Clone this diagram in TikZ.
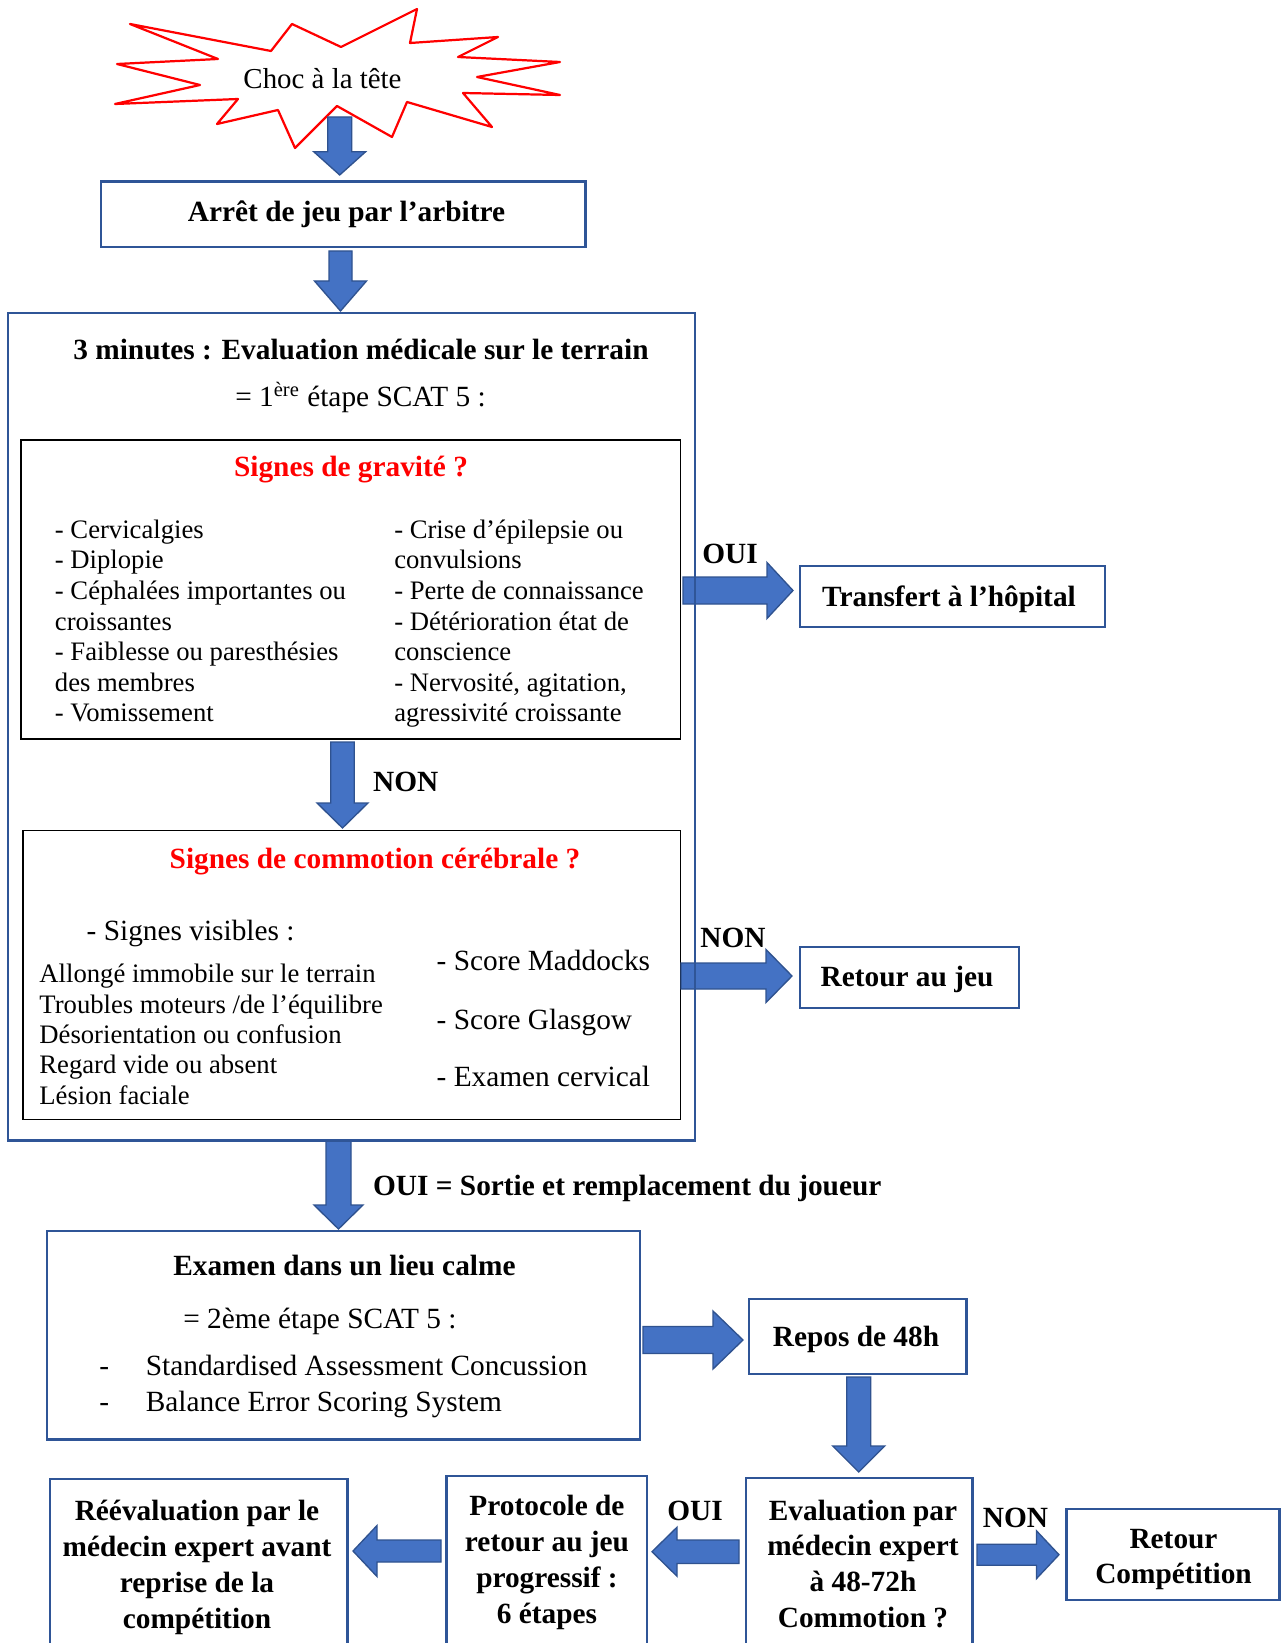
\documentclass[tikz,border=0pt]{standalone}
\usepackage{fontspec}
\setmainfont{Liberation Serif}
\usetikzlibrary{calc}
\definecolor{boxblue}{HTML}{2F5597}
\definecolor{arrfill}{HTML}{4472C4}
\definecolor{arrline}{HTML}{2F528F}
\definecolor{wred}{HTML}{FF0000}
\tikzset{
  bluebox/.style={draw=boxblue, line width=1.1pt, inner sep=0pt},
  blackbox/.style={draw=black, line width=0.6pt, inner sep=0pt},
  blockarrow/.style={fill=arrfill, draw=arrline, line width=0.6pt, line join=miter},
  txt/.style={inner sep=0pt, font=\fontsize{13.2}{15}\selectfont},
  btxt/.style={inner sep=0pt, font=\fontsize{13.2}{15}\selectfont\bfseries},
  stxt/.style={inner sep=0pt, font=\fontsize{12}{14}\selectfont},
  rtxt/.style={inner sep=0pt, font=\fontsize{13.2}{15}\selectfont\bfseries, text=wred},
}
% box node from corners (x1,y1)-(x2,y2) in px
\newcommand\boxnode[6]{\node[#6, minimum width={(#4-#2)*0.45pt}, minimum height={(#5-#3)*0.45pt}] (#1) at ({(#2+#4)/2},{(#3+#5)/2}) {};}
% block arrow: start, tip, half shaft, half head, head length (px)
\newcommand\blk[5]{%
  \pgfmathsetlengthmacro\bkS{#3*0.45pt}%
  \pgfmathsetlengthmacro\bkH{#4*0.45pt}%
  \pgfmathsetlengthmacro\bkL{#5*0.45pt}%
  \coordinate (bkb) at ($(#2)!\bkL!(#1)$);
  \draw[blockarrow] ($(#1)!\bkS!90:(#2)$) -- ($(bkb)!\bkS!90:(#2)$) -- ($(bkb)!\bkH!90:(#2)$) -- (#2) -- ($(bkb)!\bkH!270:(#2)$) -- ($(bkb)!\bkS!270:(#2)$) -- ($(#1)!\bkS!270:(#2)$) -- cycle;}
\begin{document}
\begin{tikzpicture}[x=0.45pt,y=-0.45pt]
\path[use as bounding box, clip] (0,0) rectangle (1281,1643);
\fill[white] (0,0) rectangle (1281,1643);

% starburst
\draw[wred, line width=1pt, line join=round] (130,24) -- (271,51) -- (292,24) -- (341,47) -- (417,9) -- (410,43) -- (498,37) -- (458,57) -- (560,62) -- (477,77) -- (560,95) -- (463,93) -- (492,127) -- (407,102) -- (392,137) -- (337,106) -- (295,148) -- (278,110) -- (217,124) -- (238,99) -- (115,104) -- (200,85) -- (117,64) -- (218,59) -- cycle;
\node[inner sep=0pt, font=\fontsize{13}{15}\selectfont, anchor=base] (choc) at (322.5,88.3) {Choc à la tête};

% boxes
\boxnode{arret}{101}{181.5}{585.5}{247}{bluebox}
\node[btxt, anchor=base] (arret-t) at (346.5,221.7) {Arrêt de jeu par l’arbitre};

\boxnode{grav}{21}{440}{680.5}{739}{blackbox}
\boxnode{comm}{23}{830.7}{680.5}{1119.3}{blackbox}
\boxnode{hopital}{800}{566}{1105}{627}{bluebox}
\node[btxt, anchor=base] (hopital-t) at (949,606.7) {Transfert à l’hôpital};
\boxnode{rjeu}{800}{947}{1019}{1008}{bluebox}
\node[btxt, anchor=base] (rjeu-t) at (907,986.7) {Retour au jeu};
\boxnode{examen}{47}{1231}{640}{1439.5}{bluebox}
\boxnode{repos}{749}{1299}{966.5}{1374}{bluebox}
\node[btxt, anchor=base] (repos-t) at (856,1346.7) {Repos de 48h};
\boxnode{reeval}{50}{1479}{347.5}{1700}{bluebox}
\boxnode{proto}{446.5}{1476}{647}{1700}{bluebox}
\boxnode{evexp}{746}{1478}{972.5}{1700}{bluebox}
\boxnode{rcomp}{1066.5}{1509}{1279.5}{1600}{bluebox}

% block arrows
\coordinate (a1s) at (339.7,117);   \coordinate (a1e) at (339.7,175);
\coordinate (a2s) at (340.5,251);   \coordinate (a2e) at (340.5,311);
\coordinate (a3s) at (683,590.5);   \coordinate (a3e) at (793,590.5);
\coordinate (a4s) at (342.5,742);   \coordinate (a4e) at (342.5,828);
\coordinate (a5s) at (681,976);     \coordinate (a5e) at (792,976);
\coordinate (a6s) at (338.5,1141);  \coordinate (a6e) at (338.5,1229);
\coordinate (a7s) at (643,1340);    \coordinate (a7e) at (743,1340);
\coordinate (a8s) at (858.7,1377);  \coordinate (a8e) at (858.7,1472);
\coordinate (a9s) at (739,1551.7);  \coordinate (a9e) at (652,1551.7);
\coordinate (a10s) at (441,1551);   \coordinate (a10e) at (353,1551);
\coordinate (a11s) at (977,1554.7); \coordinate (a11e) at (1059,1554.7);
\blk{a1s}{a1e}{12}{26}{23.3}
\blk{a2s}{a2e}{11.5}{26}{30}
\blk{a3s}{a3e}{13.5}{28}{26}
\blk{a4s}{a4e}{11.8}{25.5}{25}
\blk{a5s}{a5e}{13}{26.5}{26}
\blk{a6s}{a6e}{12.5}{24.5}{24}
\blk{a7s}{a7e}{13.5}{29}{30}
\blk{a8s}{a8e}{12}{26}{26}
\blk{a9s}{a9e}{11.7}{24.5}{25}
\blk{a10s}{a10e}{11}{25.5}{24}
\blk{a11s}{a11e}{10.5}{24}{22.6}

% big evaluation box (drawn over the side arrows)
\boxnode{eval}{8}{313}{695}{1140.5}{bluebox}
\node[btxt, anchor=base] (eval-t) at (361,359.3) {3 minutes : Evaluation médicale sur le terrain};
\node[txt, anchor=base] (scat1) at (360.5,406) {= 1\textsuperscript{ère} étape SCAT 5 :};

% gravite content
\node[rtxt, anchor=base] (grav-t) at (351,476.7) {Signes de gravité ?};
\foreach \t [count=\i from 0] in {- Cervicalgies, - Diplopie, - Céphalées importantes ou, croissantes, - Faiblesse ou paresthésies, des membres, - Vomissement}
  \node[stxt, anchor=base west] (gl\i) at (54.5,{538.3+30.57*\i}) {\t};
\foreach \t [count=\i from 0] in {- Crise d’épilepsie ou, convulsions, - Perte de connaissance, - Détérioration état de, conscience, {- Nervosité, agitation,}, agressivité croissante}
  \node[stxt, anchor=base west] (gr\i) at (393.8,{538.3+30.57*\i}) {\t};

% commotion content
\node[rtxt, anchor=base] (comm-t) at (375,868.3) {Signes de commotion cérébrale ?};
\node[txt, anchor=base west] (visibles) at (86.3,940) {- Signes visibles :};
\foreach \t [count=\i from 0] in {Allongé immobile sur le terrain, Troubles moteurs /de l’équilibre, Désorientation ou confusion, Regard vide ou absent, Lésion faciale}
  \node[stxt, anchor=base west] (cl\i) at (39,{982.7+30.35*\i}) {\t};
\foreach \t/\y [count=\i] in {- Score Maddocks/970.7, - Score Glasgow/1029.3, - Examen cervical/1086.7}
  \node[txt, anchor=base west] (cr\i) at (436.2,\y) {\t};

% examen content
\node[btxt, anchor=base] (examen-t) at (344.4,1275) {Examen dans un lieu calme};
\node[txt, anchor=base] (scat2) at (319.9,1328.3) {= 2ème étape SCAT 5 :};
\node[txt, anchor=base west] (d1) at (99,1375) {-};
\node[txt, anchor=base west] (sac) at (145.4,1375) {Standardised Assessment Concussion};
\node[txt, anchor=base west] (d2) at (99,1411.7) {-};
\node[txt, anchor=base west] (bess) at (145.4,1411.7) {Balance Error Scoring System};

% bottom boxes content
\foreach \t [count=\i from 0] in {Réévaluation par le, médecin expert avant, reprise de la, compétition}
  \node[btxt, anchor=base] (re\i) at (197,{1520+36*\i}) {\t};
\foreach \t [count=\i from 0] in {Protocole de, retour au jeu, progressif :, 6 étapes}
  \node[btxt, anchor=base] (pr\i) at (547,{1515+36*\i}) {\t};
\foreach \t [count=\i from 0] in {Evaluation par, médecin expert, à 48-72h, Commotion ?}
  \node[btxt, anchor=base] (ev\i) at (863,{1520+35.8*\i}) {\t};
\foreach \t [count=\i from 0] in {Retour, Compétition}
  \node[btxt, anchor=base] (rc\i) at (1173.5,{1548+35.5*\i}) {\t};

% connector labels
\node[btxt, anchor=base] (oui1) at (730,563) {OUI};
\node[btxt, anchor=base west] (non1) at (372.7,791) {NON};
\node[btxt, anchor=base] (non2) at (733,947) {NON};
\node[btxt, anchor=base west] (sortie) at (372.7,1195) {OUI = Sortie et remplacement du joueur};
\node[btxt, anchor=base] (oui3) at (695,1520) {OUI};
\node[btxt, anchor=base] (non3) at (1015.5,1527.3) {NON};
\end{tikzpicture}
\end{document}
